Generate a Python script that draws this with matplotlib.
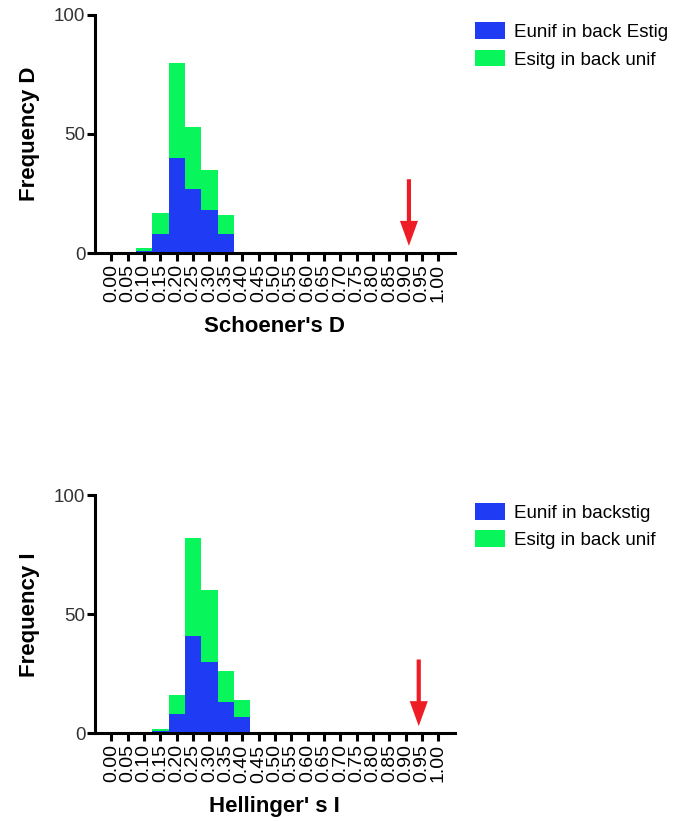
import numpy as np
import matplotlib
matplotlib.use("Agg")
import matplotlib.pyplot as plt

plt.rcParams['font.family'] = ['Liberation Sans', 'DejaVu Sans']

# bin centres (width 0.05) and counts for each panel
bins_d = [0.10, 0.15, 0.20, 0.25, 0.30, 0.35]
unif_d = [1, 8, 40, 27, 18, 8]
sitg_d = [1, 9, 40, 26, 17, 8]
arrow_d = 0.91

bins_i = [0.15, 0.20, 0.25, 0.30, 0.35, 0.40]
unif_i = [1, 8, 41, 30, 13, 7]
sitg_i = [1, 8, 41, 30, 13, 7]
arrow_i = 0.94

ticks = np.round(np.arange(0, 1.0001, 0.05), 2)
tick_labels = ["%.2f" % t for t in ticks]

blue = '#1f3cf4'
green = '#08f55c'

fig = plt.figure(figsize=(6.8, 8.21), dpi=100)


def panel(rect, bins, a, b, arrow_x, ylab, xlab, leg):
    ax = fig.add_axes(rect)
    ax.bar(bins, a, width=0.05, color=blue, linewidth=0, label=leg[0])
    ax.bar(bins, b, width=0.05, bottom=a, color=green, linewidth=0, label=leg[1])
    ax.set_xlim(-0.05, 1.05)
    ax.set_ylim(0, 100)
    ax.spines['top'].set_visible(False)
    ax.spines['right'].set_visible(False)
    for s in ('left', 'bottom'):
        ax.spines[s].set_linewidth(2.2)
    ax.set_yticks([0, 50, 100])
    ax.set_xticks(ticks)
    ax.set_xticklabels(tick_labels, rotation=90)
    ax.tick_params(axis='x', width=2.2, length=6, labelsize=14, pad=2)
    ax.tick_params(axis='y', width=2.2, length=6, labelsize=13.5, labelcolor='#333333', pad=1)
    ax.set_ylabel(ylab, fontsize=16, fontweight='bold', labelpad=10)
    ax.set_xlabel(xlab, fontsize=16, fontweight='bold', labelpad=10)
    ax.annotate('', xy=(arrow_x, 3), xytext=(arrow_x, 31),
                arrowprops=dict(facecolor='#ee1c24', edgecolor='none',
                                width=3, headwidth=13, headlength=18, shrink=0))
    ax.legend(loc='upper left', bbox_to_anchor=(1.035, 1.0), frameon=False,
              fontsize=13.5, handlelength=1.6, handleheight=1.0,
              labelspacing=0.45, handletextpad=0.5, borderaxespad=0)
    return ax


panel([0.1397, 0.6918, 0.529, 0.290], bins_d, unif_d, sitg_d, arrow_d,
      'Frequency D', "Schoener's D", ['Eunif in back Estig', 'Esitg in back unif'])
panel([0.1397, 0.1068, 0.529, 0.290], bins_i, unif_i, sitg_i, arrow_i,
      'Frequency I', "Hellinger' s I", ['Eunif in backstig', 'Esitg in back unif'])

fig.savefig('out.png', dpi=100)
